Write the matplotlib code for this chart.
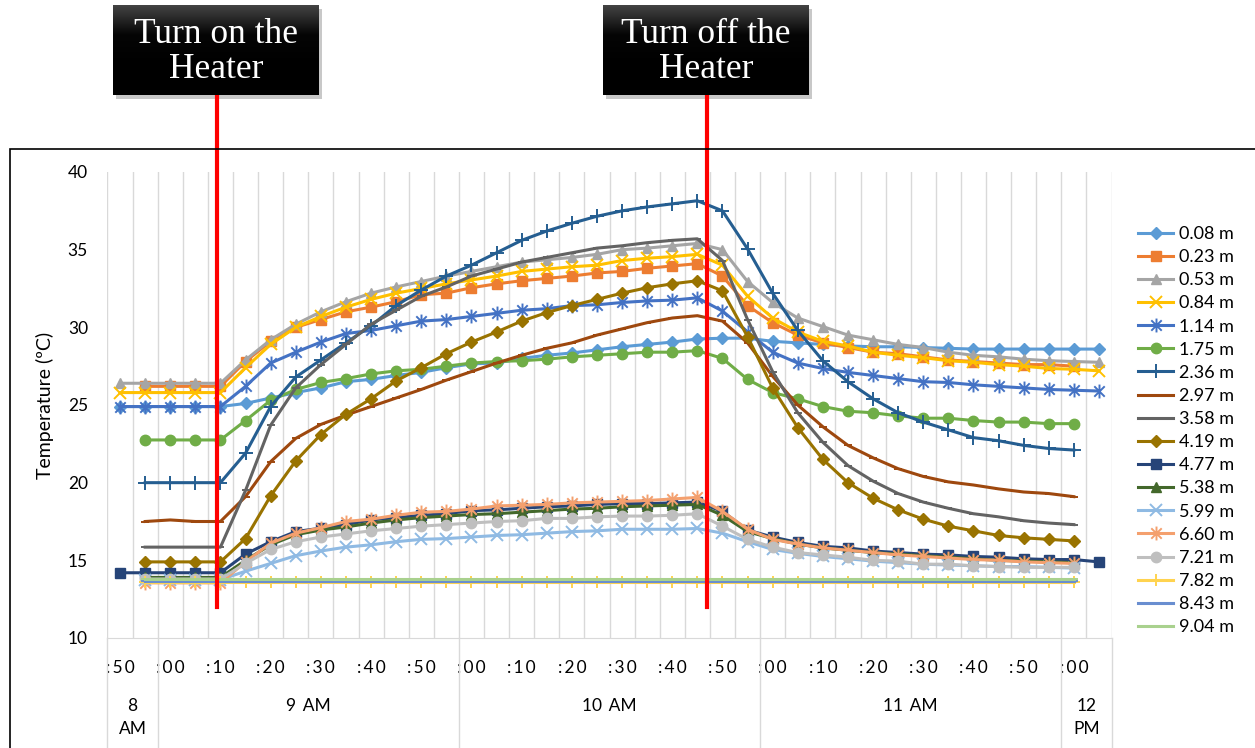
import numpy as np
import matplotlib.pyplot as plt
import matplotlib.transforms as mtransforms
from matplotlib.colors import LinearSegmentedColormap
from matplotlib.patches import Rectangle
from matplotlib.path import Path

plt.rcParams['font.family'] = ['Lato', 'DejaVu Sans']

nan = np.nan

# time of each reading (5 min steps)
times = ['8:50', '8:55', '9:00', '9:05', '9:10', '9:15', '9:20', '9:25', '9:30', '9:35',
         '9:40', '9:45', '9:50', '9:55', '10:00', '10:05', '10:10', '10:15', '10:20', '10:25',
         '10:30', '10:35', '10:40', '10:45', '10:50', '10:55', '11:00', '11:05', '11:10', '11:15',
         '11:20', '11:25', '11:30', '11:35', '11:40', '11:45', '11:50', '11:55', '12:00', '12:05']

depths = ['0.08 m', '0.23 m', '0.53 m', '0.84 m', '1.14 m', '1.75 m', '2.36 m', '2.97 m', '3.58 m',
          '4.19 m', '4.77 m', '5.38 m', '5.99 m', '6.60 m', '7.21 m', '7.82 m', '8.43 m', '9.04 m']

t008 = [24.9, 24.9, 24.9, 24.9, 24.9, 25.1, 25.45, 25.8, 26.1, 26.5,
        26.65, 26.9, 27.1, 27.4, 27.65, 27.7, 28.0, 28.2, 28.35, 28.55,
        28.75, 28.9, 29.05, 29.25, 29.3, 29.3, 29.1, 29.0, 28.9, 28.8,
        28.75, 28.75, 28.7, 28.65, 28.6, 28.6, 28.6, 28.6, 28.6, 28.6]
t023 = [nan, 26.2, 26.2, 26.2, 26.2, 27.8, 29.1, 30.0, 30.5, 31.0,
        31.3, 31.65, 32.1, 32.2, 32.55, 32.8, 33.0, 33.15, 33.3, 33.5,
        33.6, 33.8, 33.95, 34.1, 33.3, 31.4, 30.3, 29.5, 29.0, 28.7,
        28.4, 28.3, 28.1, 27.9, 27.8, 27.7, 27.6, 27.6, 27.5, nan]
t053 = [26.4, 26.4, 26.4, 26.4, 26.4, 27.9, 29.2, 30.2, 31.0, 31.65,
        32.2, 32.6, 32.95, 33.3, 33.6, 33.9, 34.2, 34.35, 34.5, 34.7,
        35.0, 35.1, 35.25, 35.4, 35.0, 32.95, 31.6, 30.6, 30.05, 29.5,
        29.2, 28.9, 28.7, 28.4, 28.2, 28.1, 27.95, 27.85, 27.8, 27.75]
t084 = [25.8, 25.8, 25.8, 25.8, 25.8, 27.4, 28.9, 30.0, 30.7, 31.3,
        31.8, 32.2, 32.5, 32.8, 33.05, 33.3, 33.6, 33.75, 33.9, 34.0,
        34.3, 34.45, 34.55, 34.7, 34.0, 32.0, 30.6, 29.7, 29.1, 28.8,
        28.4, 28.2, 28.05, 27.85, 27.75, 27.6, 27.5, 27.35, 27.3, 27.2]
t114 = [24.9, 24.9, 24.9, 24.9, 24.9, 26.2, 27.7, 28.4, 29.05, 29.6,
        29.8, 30.1, 30.4, 30.5, 30.7, 30.9, 31.1, 31.2, 31.4, 31.45,
        31.6, 31.7, 31.75, 31.9, 31.05, 29.7, 28.4, 27.7, 27.35, 27.1,
        26.9, 26.7, 26.5, 26.45, 26.3, 26.2, 26.1, 26.0, 25.95, 25.9]
t175 = [nan, 22.75, 22.75, 22.75, 22.75, 24.0, 25.3, 26.0, 26.45, 26.7,
        27.0, 27.2, 27.3, 27.5, 27.7, 27.8, 27.85, 27.95, 28.1, 28.2,
        28.3, 28.4, 28.4, 28.5, 28.0, 26.65, 25.8, 25.4, 24.9, 24.6,
        24.5, 24.3, 24.15, 24.15, 24.0, 23.9, 23.9, 23.8, 23.8, nan]
t236 = [nan, 20.0, 20.0, 20.0, 20.0, 21.9, 24.9, 26.8, 27.9, 29.0,
        30.1, 31.4, 32.4, 33.3, 34.0, 34.8, 35.6, 36.2, 36.7, 37.15,
        37.5, 37.75, 37.95, 38.15, 37.5, 35.05, 32.2, 29.8, 27.85, 26.5,
        25.4, 24.5, 23.9, 23.4, 22.9, 22.7, 22.4, 22.2, 22.1, nan]
t297 = [nan, 17.5, 17.6, 17.5, 17.5, 19.1, 21.35, 22.85, 23.75, 24.35,
        24.9, 25.45, 26.0, 26.6, 27.15, 27.7, 28.2, 28.65, 29.0, 29.5,
        29.9, 30.3, 30.6, 30.75, 30.4, 29.0, 26.85, 25.0, 23.6, 22.4,
        21.6, 20.9, 20.4, 20.05, 19.85, 19.6, 19.4, 19.3, 19.1, nan]
t358 = [nan, 15.85, 15.85, 15.85, 15.85, 19.5, 23.7, 26.1, 27.6, 28.9,
        30.2, 31.1, 32.0, 32.6, 33.3, 33.75, 34.2, 34.5, 34.8, 35.1,
        35.25, 35.45, 35.6, 35.7, 34.3, 30.5, 27.15, 24.5, 22.6, 21.1,
        20.1, 19.3, 18.75, 18.35, 18.0, 17.8, 17.55, 17.4, 17.3, nan]
t419 = [nan, 14.9, 14.9, 14.9, 14.9, 16.4, 19.15, 21.4, 23.1, 24.4,
        25.4, 26.55, 27.4, 28.3, 29.05, 29.7, 30.4, 30.95, 31.4, 31.8,
        32.2, 32.55, 32.8, 33.0, 32.35, 29.4, 26.1, 23.55, 21.5, 20.0,
        19.0, 18.25, 17.65, 17.2, 16.9, 16.6, 16.45, 16.35, 16.25, nan]
t477 = [14.2, 14.2, 14.2, 14.2, 14.2, 15.4, 16.2, 16.85, 17.07, 17.3,
        17.6, 17.75, 17.9, 18.0, 18.2, 18.25, 18.35, 18.45, 18.5, 18.6,
        18.65, 18.65, 18.7, 18.75, 18.15, 16.95, 16.5, 16.15, 15.9, 15.8,
        15.6, 15.5, 15.4, 15.35, 15.25, 15.2, 15.1, 15.05, 15.05, 14.9]
t538 = [nan, 13.9, 13.9, 13.9, 13.9, 15.0, 16.0, 16.65, 16.95, 17.15,
        17.4, 17.6, 17.75, 17.85, 17.95, 18.0, 18.1, 18.2, 18.3, 18.35,
        18.45, 18.5, 18.55, 18.6, 17.9, 16.85, 16.4, 16.05, 15.8, 15.65,
        15.5, 15.4, 15.3, 15.2, 15.1, 15.0, 14.95, 14.9, 14.85, nan]
t599 = [nan, 13.75, 13.75, 13.75, 13.75, 14.3, 14.8, 15.3, 15.6, 15.85,
        16.0, 16.2, 16.35, 16.4, 16.5, 16.6, 16.65, 16.75, 16.85, 16.9,
        17.0, 17.0, 17.0, 17.05, 16.75, 16.2, 15.7, 15.45, 15.25, 15.1,
        14.95, 14.85, 14.75, 14.7, 14.65, 14.6, 14.6, 14.55, 14.5, nan]
t660 = [nan, 13.55, 13.55, 13.55, 13.55, 14.9, 16.1, 16.75, 17.1, 17.5,
        17.65, 17.9, 18.1, 18.15, 18.3, 18.5, 18.55, 18.6, 18.7, 18.75,
        18.8, 18.85, 18.95, 19.05, 18.15, 17.0, 16.35, 16.05, 15.8, 15.65,
        15.5, 15.35, 15.25, 15.15, 15.05, 15.0, 14.9, 14.85, 14.8, nan]
t721 = [nan, 13.8, 13.8, 13.8, 13.8, 14.8, 15.7, 16.2, 16.5, 16.7,
        16.9, 17.05, 17.2, 17.3, 17.4, 17.5, 17.55, 17.7, 17.7, 17.8,
        17.85, 17.85, 17.9, 18.0, 17.2, 16.35, 15.85, 15.5, 15.35, 15.2,
        15.0, 14.95, 14.75, 14.75, 14.65, 14.6, 14.55, 14.55, 14.55, nan]
t782 = [nan, 13.6, 13.6, 13.6, 13.6, 13.6, 13.6, 13.6, 13.6, 13.6,
        13.6, 13.6, 13.6, 13.6, 13.6, 13.6, 13.6, 13.6, 13.6, 13.6,
        13.6, 13.6, 13.6, 13.6, 13.6, 13.6, 13.6, 13.6, 13.6, 13.6,
        13.6, 13.6, 13.6, 13.6, 13.6, 13.6, 13.6, 13.6, 13.6, nan]
t843 = [nan, 13.7, 13.7, 13.7, 13.7, 13.7, 13.7, 13.7, 13.7, 13.7,
        13.7, 13.7, 13.7, 13.7, 13.7, 13.7, 13.7, 13.7, 13.7, 13.7,
        13.7, 13.7, 13.7, 13.7, 13.7, 13.7, 13.7, 13.7, 13.7, 13.7,
        13.7, 13.7, 13.7, 13.7, 13.7, 13.7, 13.7, 13.7, 13.7, nan]
t904 = [nan, 13.8, 13.8, 13.8, 13.8, 13.8, 13.8, 13.8, 13.8, 13.8,
        13.8, 13.8, 13.8, 13.8, 13.8, 13.8, 13.8, 13.8, 13.8, 13.8,
        13.8, 13.8, 13.8, 13.8, 13.8, 13.8, 13.8, 13.8, 13.8, 13.8,
        13.8, 13.8, 13.8, 13.8, 13.8, 13.8, 13.8, 13.8, 13.8, nan]

series = [t008, t023, t053, t084, t114, t175, t236, t297, t358,
          t419, t477, t538, t599, t660, t721, t782, t843, t904]

colors = ['#5B9BD5', '#ED7D31', '#A5A5A5', '#FFC000', '#4472C4', '#70AD47', '#255E91', '#9E480E', '#636363',
          '#997300', '#264478', '#43682B', '#8FBAE3', '#F4A06E', '#BFBFBF', '#FFD34F', '#698ED0', '#A9D18E']

# excel style "star" marker: vertical bar + X
star = Path([(0, -1), (0, 1), (-0.75, -0.75), (0.75, 0.75), (-0.75, 0.75), (0.75, -0.75)],
            [Path.MOVETO, Path.LINETO, Path.MOVETO, Path.LINETO, Path.MOVETO, Path.LINETO])
markers = ['D', 's', '^', 'x', star, 'o', '+', '_', '_',
           'D', 's', '^', 'x', star, 'o', '+', '_', '_']
msizes = [6.5, 6.5, 7.5, 8, 10, 7.5, 10, 6, 6,
          6.5, 6.5, 7.5, 8, 10, 7.5, 8, 6, 6]

heater_on = 3.85
heater_off = 23.39

W, H = 1255, 748
fig = plt.figure(figsize=(W / 100, H / 100), dpi=100)
ax = fig.add_axes([107.5 / W, 110 / H, 1004 / W, 466 / H])

x = np.arange(len(times))
for vals, lab, col, mk, ms in zip(series, depths, colors, markers, msizes):
    filled = mk not in ('x', '+', '_') and mk is not star
    ax.plot(x, vals, color=col, lw=2.2, marker=mk, ms=ms,
            mfc=col if filled else 'none', mec=col, mew=1.4 if not filled else 1,
            label=lab, zorder=3)

ax.set_xlim(-0.5, len(times) - 0.5)
ax.set_ylim(10, 40)
ax.set_yticks(range(10, 41, 5))
ax.set_xticks(x[::2])
# excel spreads the characters of the minute labels a little
ax.set_xticklabels(['\u2009'.join(':' + t.split(':')[1]) for t in times[::2]])
ax.set_xticks(np.arange(-0.5, len(times), 1), minor=True)
ax.tick_params(axis='both', which='both', length=0, labelsize=12.5, colors='#000000')
ax.tick_params(axis='y', pad=14)
ax.tick_params(axis='x', pad=16)
ax.grid(which='minor', axis='x', color='#D9D9D9', lw=1, zorder=0)
ax.grid(which='major', visible=False)
for s in ['left', 'right', 'top']:
    ax.spines[s].set_visible(False)
ax.spines['bottom'].set_color('#D9D9D9')
ax.set_ylabel('Temperature (ºC)', fontsize=14, labelpad=10)

# hour groups under the minute labels
trans = mtransforms.blended_transform_factory(ax.transData, ax.transAxes)
hours = [int(t.split(':')[0]) for t in times]
groups = []
for i, h in enumerate(hours):
    if groups and groups[-1][0] == h:
        groups[-1][2] = i
    else:
        groups.append([h, i, i])
for h, i0, i1 in groups:
    name = f'{h} AM' if h < 12 else f'{h} PM'
    if i1 - i0 < 2:
        name = name.replace(' ', '\n')
    else:
        name = name.replace(' ', ' \u2009')
    ax.text((i0 + i1) / 2, -0.128, name, transform=trans, ha='center', va='top',
            fontsize=12.5, linespacing=1.55)
    ax.plot([i0 - 0.5, i0 - 0.5], [0, -0.24], transform=trans, color='#D9D9D9', lw=1, clip_on=False)
ax.plot([len(times) - 0.5] * 2, [0, -0.24], transform=trans, color='#D9D9D9', lw=1, clip_on=False)

# heater on / off markers
for xv in (heater_on, heater_off):
    ax.plot([xv, xv], [12, 44.96], color='#FF0000', lw=3, clip_on=False, zorder=5)

leg = ax.legend(loc='upper left', bbox_to_anchor=(1138 / W, 1 - 226 / H),
                bbox_transform=fig.transFigure, frameon=False, fontsize=13,
                handlelength=1.95, handletextpad=0.3, labelspacing=0.395,
                borderpad=0, borderaxespad=0)

# chart border (cropped at right and bottom)
fig.add_artist(Rectangle((10 / W, -0.05), 1.1, 1.05 - 149 / H, transform=fig.transFigure,
                         fill=False, edgecolor='black', lw=1.2))

# label boxes
cmap = LinearSegmentedColormap.from_list('box', ['#000000', '#000000', '#050505', '#454545'])
grad = np.linspace(0, 1, 64).reshape(-1, 1)
for txt, x0 in [('Turn on the\nHeater', 113), ('Turn off the\nHeater', 603)]:
    fig.add_artist(Rectangle(((x0 + 3) / W, 1 - 99 / H), 206 / W, 90 / H,
                             transform=fig.transFigure, color='#c8c8c8', lw=0, zorder=-1))
    bx = fig.add_axes([x0 / W, 1 - 95 / H, 206 / W, 90 / H])
    bx.imshow(grad, cmap=cmap, aspect='auto', origin='lower', extent=[0, 1, 0, 1])
    bx.set_axis_off()
    bx.text(0.5, 0.475, txt, color='white', ha='center', va='center', fontsize=25.5,
            family='Liberation Serif', linespacing=1.08)

fig.savefig('out.png', dpi=100)
